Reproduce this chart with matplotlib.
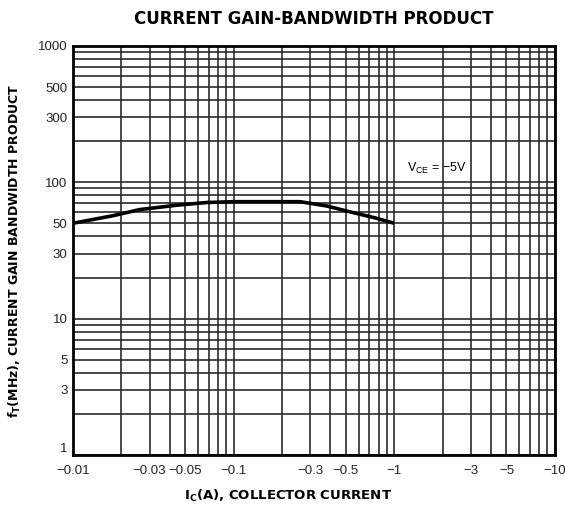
import matplotlib.pyplot as plt
from matplotlib.ticker import FixedLocator, FixedFormatter, LogLocator, NullFormatter

# Curve (|Ic| in A, fT in MHz)
ic = [0.01, 0.018, 0.026, 0.045, 0.068, 0.1, 0.18, 0.26, 0.38, 0.52, 0.75, 1.0]
ft = [50, 57, 63, 68, 71, 72, 72, 72, 67, 61, 55, 50]

x_ticks = [0.01, 0.03, 0.05, 0.1, 0.3, 0.5, 1, 3, 5, 10]
x_labels = ['\u22120.01', '\u22120.03', '\u22120.05', '\u22120.1', '\u22120.3',
            '\u22120.5', '\u22121', '\u22123', '\u22125', '\u221210']
y_ticks = [1, 3, 5, 10, 30, 50, 100, 300, 500, 1000]
y_labels = ['1', '3', '5', '10', '30', '50', '100', '300', '500', '1000']

plt.rcParams['font.family'] = ['Liberation Sans', 'DejaVu Sans']

fig = plt.figure(figsize=(5.65, 5.11), dpi=100)
ax = fig.add_axes([0.129, 0.110, 0.853, 0.800])

ax.set_xscale('log')
ax.set_yscale('log')
ax.set_xlim(0.01, 10)
ax.set_ylim(1, 1000)

# Dense log grid, like the printed graph paper
ax.xaxis.set_minor_locator(LogLocator(base=10, subs=range(1, 10)))
ax.yaxis.set_minor_locator(LogLocator(base=10, subs=range(1, 10)))
ax.xaxis.set_minor_formatter(NullFormatter())
ax.yaxis.set_minor_formatter(NullFormatter())
ax.grid(True, which='both', color='#2a2a2a', lw=1.2)
ax.set_axisbelow(True)

ax.plot(ic, ft, color='black', lw=2.6, solid_capstyle='butt')

ax.xaxis.set_major_locator(FixedLocator(x_ticks))
ax.xaxis.set_major_formatter(FixedFormatter(x_labels))
ax.yaxis.set_major_locator(FixedLocator(y_ticks))
ax.yaxis.set_major_formatter(FixedFormatter(y_labels))
ax.tick_params(which='both', length=0, labelsize=9.5, colors='#222222')
ax.tick_params(axis='x', pad=7)
ax.tick_params(axis='y', pad=4)
# the "1" label sits a touch above the bottom edge in the original
ax.get_yticklabels()[0].set_verticalalignment('bottom')

for s in ax.spines.values():
    s.set_linewidth(2)
    s.set_color('black')

ax.text(1.2, 112, 'V$_{\\mathregular{CE}}$ = \u22125V',
        fontsize=9, ha='left', va='bottom')

fig.text(0.555, 0.962, 'CURRENT GAIN-BANDWIDTH PRODUCT', ha='center', va='center',
         fontsize=12, fontweight='bold', family='DejaVu Sans')
fig.text(0.51, 0.030, 'I$_{\\mathregular{C}}$(A), COLLECTOR CURRENT', ha='center', va='center',
         fontsize=9.5, fontweight='bold', family='DejaVu Sans')
fig.text(0.027, 0.51, 'f$_{\\mathregular{T}}$(MHz), CURRENT GAIN BANDWIDTH PRODUCT',
         ha='center', va='center', rotation=90, fontsize=9, fontweight='bold',
         family='DejaVu Sans')

plt.savefig('out.png', dpi=100)
